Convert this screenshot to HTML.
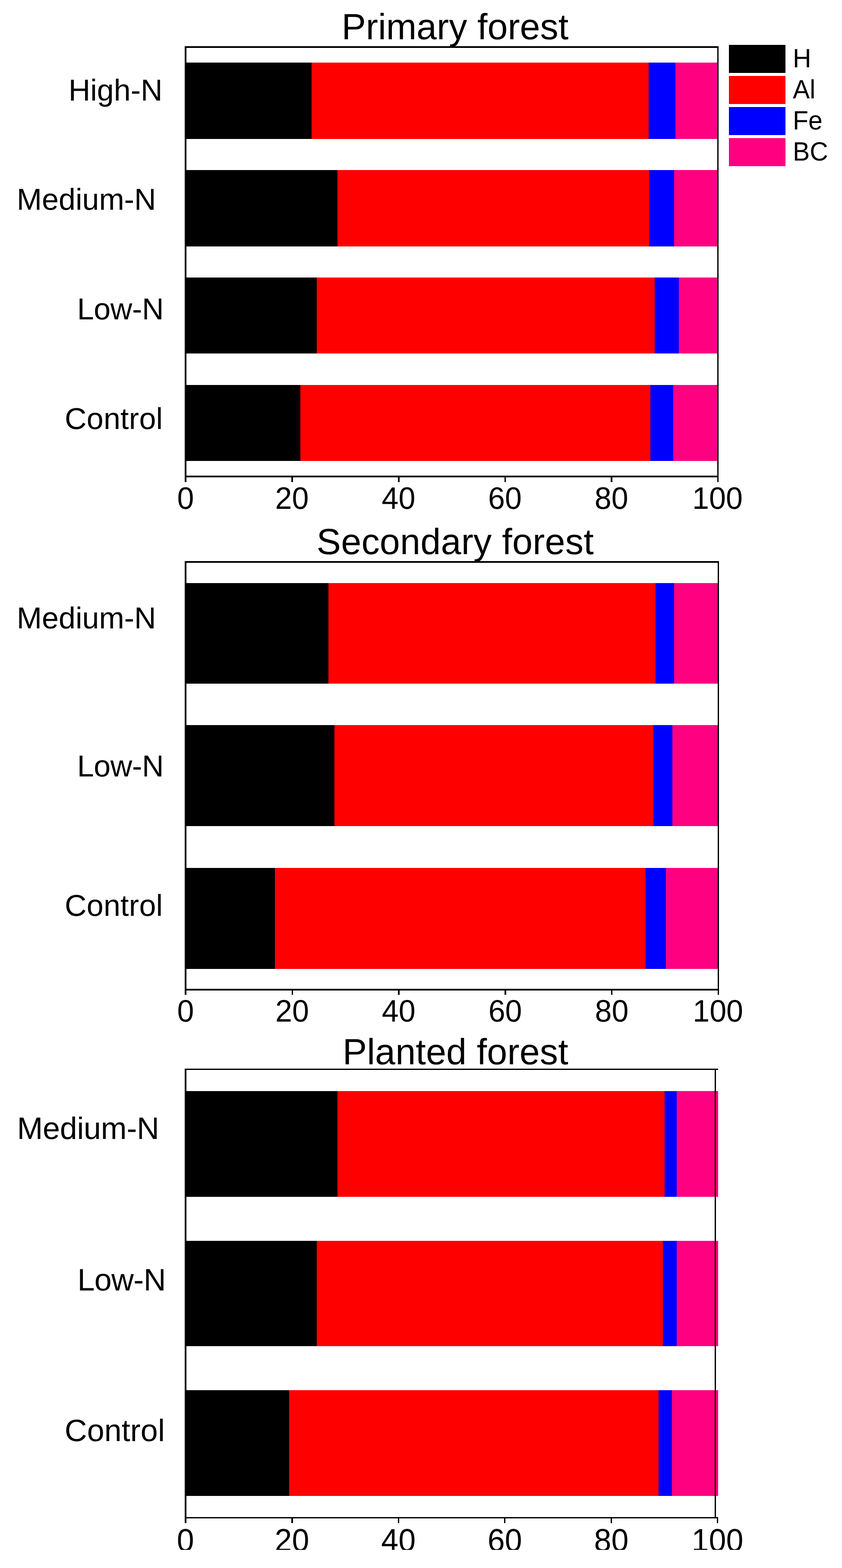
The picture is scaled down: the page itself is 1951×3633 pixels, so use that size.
<!DOCTYPE html>
<html lang="en">
<head>
<meta charset="utf-8">
<title>Forest cation composition</title>
<style>
html,body{margin:0;padding:0;background:#ffffff;width:1951px;height:3633px;}
svg{display:block;font-family:'Liberation Sans', sans-serif;fill:#000000;}
svg rect{shape-rendering:crispEdges;}
svg text{text-rendering:geometricPrecision;font-kerning:none;}
</style>
</head>
<body>
<svg width="1951" height="3633" viewBox="0 0 1951 3633">
<defs><clipPath id="cutb"><rect x="0" y="3500" width="1951" height="91"/></clipPath></defs>
<rect x="0" y="0" width="1951" height="3633" fill="#ffffff"/>
<g>
<rect x="430" y="145" width="292" height="177" fill="#000000"/>
<rect x="722" y="145" width="781" height="177" fill="#ff0000"/>
<rect x="1503" y="145" width="62" height="177" fill="#0000ff"/>
<rect x="1565" y="145" width="97" height="177" fill="#ff0080"/>
<rect x="430" y="394" width="352" height="177" fill="#000000"/>
<rect x="782" y="394" width="722" height="177" fill="#ff0000"/>
<rect x="1504" y="394" width="58" height="177" fill="#0000ff"/>
<rect x="1562" y="394" width="100" height="177" fill="#ff0080"/>
<rect x="430" y="643" width="304" height="176" fill="#000000"/>
<rect x="734" y="643" width="783" height="176" fill="#ff0000"/>
<rect x="1517" y="643" width="56" height="176" fill="#0000ff"/>
<rect x="1573" y="643" width="89" height="176" fill="#ff0080"/>
<rect x="430" y="892" width="266" height="176" fill="#000000"/>
<rect x="696" y="892" width="811" height="176" fill="#ff0000"/>
<rect x="1507" y="892" width="53" height="176" fill="#0000ff"/>
<rect x="1560" y="892" width="102" height="176" fill="#ff0080"/>
<rect x="428" y="107" width="1237" height="4" fill="#000000"/>
<rect x="428" y="1102" width="1237" height="4" fill="#000000"/>
<rect x="428" y="107" width="4" height="999" fill="#000000"/>
<rect x="1662" y="107" width="3" height="999" fill="#000000"/>
<rect x="428" y="1102" width="4" height="15" fill="#000000"/>
<rect x="675" y="1102" width="4" height="15" fill="#000000"/>
<rect x="922" y="1102" width="4" height="15" fill="#000000"/>
<rect x="1169" y="1102" width="3" height="15" fill="#000000"/>
<rect x="1415" y="1102" width="4" height="15" fill="#000000"/>
<rect x="1662" y="1102" width="3" height="15" fill="#000000"/>
<text transform="translate(791.4 91) scale(1 1.0)" font-size="84.5" text-anchor="start">Primary forest</text>
<text transform="translate(158.7 233) scale(1 1.0)" font-size="70" text-anchor="start">High-N</text>
<text transform="translate(38.8 485.7) scale(1 1.0)" font-size="70" text-anchor="start">Medium-N</text>
<text transform="translate(178.8 740) scale(1 1.0)" font-size="70" text-anchor="start" letter-spacing="-0.4">Low-N</text>
<text transform="translate(149.9 994) scale(1 1.0)" font-size="70" text-anchor="start" letter-spacing="0.27">Control</text>
<text transform="translate(430 1179) scale(1 1.03)" font-size="70" text-anchor="middle">0</text>
<text transform="translate(676.5 1179) scale(1 1.03)" font-size="70" text-anchor="middle">20</text>
<text transform="translate(923.4 1179) scale(1 1.03)" font-size="70" text-anchor="middle">40</text>
<text transform="translate(1170 1179) scale(1 1.03)" font-size="70" text-anchor="middle">60</text>
<text transform="translate(1416.8 1179) scale(1 1.03)" font-size="70" text-anchor="middle">80</text>
<text transform="translate(1662.5 1179) scale(1 1.03)" font-size="70" text-anchor="middle">100</text>
</g>
<g>
<rect x="430" y="1351" width="331" height="233" fill="#000000"/>
<rect x="761" y="1351" width="758" height="233" fill="#ff0000"/>
<rect x="1519" y="1351" width="43" height="233" fill="#0000ff"/>
<rect x="1562" y="1351" width="101" height="233" fill="#ff0080"/>
<rect x="430" y="1680" width="345" height="234" fill="#000000"/>
<rect x="775" y="1680" width="739" height="234" fill="#ff0000"/>
<rect x="1514" y="1680" width="44" height="234" fill="#0000ff"/>
<rect x="1558" y="1680" width="105" height="234" fill="#ff0080"/>
<rect x="430" y="2011" width="207" height="234" fill="#000000"/>
<rect x="637" y="2011" width="859" height="234" fill="#ff0000"/>
<rect x="1496" y="2011" width="47" height="234" fill="#0000ff"/>
<rect x="1543" y="2011" width="120" height="234" fill="#ff0080"/>
<rect x="428" y="1300" width="1238" height="4" fill="#000000"/>
<rect x="428" y="2291" width="1238" height="4" fill="#000000"/>
<rect x="428" y="1300" width="4" height="995" fill="#000000"/>
<rect x="1663" y="1300" width="3" height="995" fill="#000000"/>
<rect x="428" y="2291" width="4" height="14" fill="#000000"/>
<rect x="676" y="2291" width="3" height="14" fill="#000000"/>
<rect x="922" y="2291" width="4" height="14" fill="#000000"/>
<rect x="1169" y="2291" width="4" height="14" fill="#000000"/>
<rect x="1416" y="2291" width="3" height="14" fill="#000000"/>
<rect x="1663" y="2291" width="3" height="14" fill="#000000"/>
<text transform="translate(733.6 1284) scale(1 1.0)" font-size="84.5" text-anchor="start" letter-spacing="0.22">Secondary forest</text>
<text transform="translate(38.8 1455.7) scale(1 1.0)" font-size="70" text-anchor="start">Medium-N</text>
<text transform="translate(178.8 1799.2) scale(1 1.0)" font-size="70" text-anchor="start" letter-spacing="-0.4">Low-N</text>
<text transform="translate(149.9 2122.4) scale(1 1.0)" font-size="70" text-anchor="start" letter-spacing="0.27">Control</text>
<text transform="translate(430 2367) scale(1 1.03)" font-size="70" text-anchor="middle">0</text>
<text transform="translate(677 2367) scale(1 1.03)" font-size="70" text-anchor="middle">20</text>
<text transform="translate(923.8 2367) scale(1 1.03)" font-size="70" text-anchor="middle">40</text>
<text transform="translate(1170.6 2367) scale(1 1.03)" font-size="70" text-anchor="middle">60</text>
<text transform="translate(1417.5 2367) scale(1 1.03)" font-size="70" text-anchor="middle">80</text>
<text transform="translate(1663.6 2367) scale(1 1.03)" font-size="70" text-anchor="middle">100</text>
</g>
<g>
<rect x="430" y="2528" width="352" height="245" fill="#000000"/>
<rect x="782" y="2528" width="758" height="245" fill="#ff0000"/>
<rect x="1540" y="2528" width="28" height="245" fill="#0000ff"/>
<rect x="1568" y="2528" width="96" height="245" fill="#ff0080"/>
<rect x="430" y="2875" width="304" height="244" fill="#000000"/>
<rect x="734" y="2875" width="802" height="244" fill="#ff0000"/>
<rect x="1536" y="2875" width="32" height="244" fill="#0000ff"/>
<rect x="1568" y="2875" width="96" height="244" fill="#ff0080"/>
<rect x="430" y="3221" width="240" height="245" fill="#000000"/>
<rect x="670" y="3221" width="856" height="245" fill="#ff0000"/>
<rect x="1526" y="3221" width="31" height="245" fill="#0000ff"/>
<rect x="1557" y="3221" width="107" height="245" fill="#ff0080"/>
<rect x="428" y="2476" width="1236" height="3" fill="#000000"/>
<rect x="428" y="3515" width="1236" height="3" fill="#000000"/>
<rect x="428" y="2476" width="4" height="1042" fill="#000000"/>
<rect x="1656" y="2476" width="3" height="1042" fill="#000000"/>
<rect x="428" y="3515" width="4" height="14" fill="#000000"/>
<rect x="675" y="3515" width="4" height="14" fill="#000000"/>
<rect x="922" y="3515" width="3" height="14" fill="#000000"/>
<rect x="1168" y="3515" width="3" height="14" fill="#000000"/>
<rect x="1415" y="3515" width="3" height="14" fill="#000000"/>
<rect x="1661" y="3515" width="3" height="14" fill="#000000"/>
<text transform="translate(793.7 2465.7) scale(1 1.0)" font-size="84.5" text-anchor="start" letter-spacing="0.12">Planted forest</text>
<text transform="translate(39.4 2638.9) scale(1 1.0)" font-size="71.8" text-anchor="start" letter-spacing="-0.23">Medium-N</text>
<text transform="translate(179.4 2990.1) scale(1 1.0)" font-size="71.8" text-anchor="start" letter-spacing="-0.58">Low-N</text>
<text transform="translate(149.8 3339.3) scale(1 1.0)" font-size="71.8" text-anchor="start" letter-spacing="0.1">Control</text>
<g clip-path="url(#cutb)">
<text transform="translate(429.6 3593.8) scale(1 1.03)" font-size="71.8" text-anchor="middle">0</text>
<text transform="translate(676.5 3593.8) scale(1 1.03)" font-size="71.8" text-anchor="middle">20</text>
<text transform="translate(923.2 3593.8) scale(1 1.03)" font-size="71.8" text-anchor="middle">40</text>
<text transform="translate(1169.8 3593.8) scale(1 1.03)" font-size="71.8" text-anchor="middle">60</text>
<text transform="translate(1416.4 3593.8) scale(1 1.03)" font-size="71.8" text-anchor="middle">80</text>
<text transform="translate(1662.5 3593.8) scale(1 1.03)" font-size="71.8" text-anchor="middle">100</text>
</g>
</g>
<g>
<rect x="1689" y="104" width="131" height="65" fill="#000000"/>
<text transform="translate(1837 156) scale(1 1.04)" font-size="59" text-anchor="start">H</text>
<rect x="1689" y="176" width="131" height="65" fill="#ff0000"/>
<text transform="translate(1837 228) scale(1 1.04)" font-size="59" text-anchor="start">Al</text>
<rect x="1689" y="248" width="131" height="65" fill="#0000ff"/>
<text transform="translate(1837 300) scale(1 1.04)" font-size="59" text-anchor="start">Fe</text>
<rect x="1689" y="320" width="131" height="65" fill="#ff0080"/>
<text transform="translate(1837 372) scale(1 1.04)" font-size="59" text-anchor="start">BC</text>
</g>
</svg>
</body>
</html>
